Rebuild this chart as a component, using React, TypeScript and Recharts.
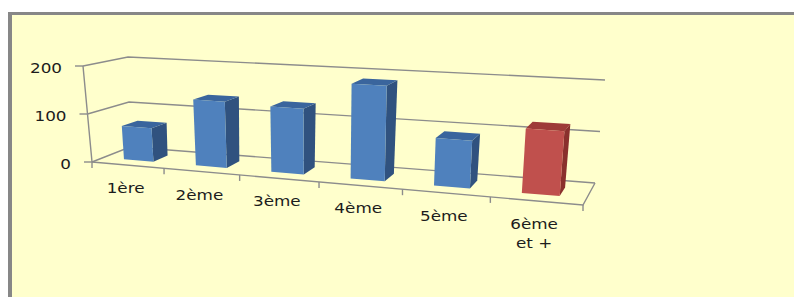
import React from 'react';
import { BarChart, Bar, XAxis, YAxis, CartesianGrid, Cell } from 'recharts';

// ---- data ----
const categories = ['1ère', '2ème', '3ème', '4ème', '5ème', '6ème et +'];
const values = [70, 136, 132, 188, 92, 122];
const highlighted = [false, false, false, false, false, true];
const yTicks = [0, 100, 200];
const Y_MAX = 200;

const data = categories.map((name, i) => ({ name, value: values[i] }));

// ---- layout / view ----
const CHART_W = 794;
const CHART_H = 297;
const PLOT = { left: 92, top: 66, width: 491, height: 96 };
const YAXIS_W = 40;
const XAXIS_H = 30;

type Pt = [number, number];
// view (camera) of the unit box: u = category axis, v = value axis, z = depth
const F00: Pt = [92, 162];
const F10: Pt = [583, 205];
const F01: Pt = [83, 66];
const F11: Pt = [591, 96];
const B00: Pt = [130, 147];
const B10: Pt = [595, 183];
const B01: Pt = [128, 57];
const B11: Pt = [605, 80];
const PERSP = 0.86;
const Z_FRONT = 0.3;
const Z_BACK = 0.7;

const lerp = (a: Pt, b: Pt, t: number): Pt => [a[0] + (b[0] - a[0]) * t, a[1] + (b[1] - a[1]) * t];
const persp = (u: number) => (PERSP * u) / (1 + (PERSP - 1) * u);
const project = (u: number, v: number, z: number): Pt => {
  const t = persp(u);
  const f = lerp(lerp(F00, F10, t), lerp(F01, F11, t), v);
  const b = lerp(lerp(B00, B10, t), lerp(B01, B11, t), v);
  return lerp(f, b, z);
};
const toU = (x: number) => (x - PLOT.left) / PLOT.width;
const toV = (y: number) => (PLOT.top + PLOT.height - y) / PLOT.height;
const pts = (list: Pt[]) => list.map((p) => `${p[0].toFixed(2)},${p[1].toFixed(2)}`).join(' ');

const LINE = '#8c8c8c';
const TEXT = '#1c1c1c';
const FONT = '"DejaVu Sans", sans-serif';

const COLORS: Record<string, { front: string; side: string; top: string }> = {
  blue: { front: '#4F81BD', side: '#30527F', top: '#3A659D' },
  red: { front: '#C0504D', side: '#8A302D', top: '#9E3B38' },
};

const Bar3D = (props: any) => {
  const { x, y, width, height, index } = props;
  if (width == null || height == null) return null;
  const u0 = toU(x);
  const u1 = toU(x + width);
  const vt = toV(y);
  const vb = toV(y + height);
  const c = highlighted[index] ? COLORS.red : COLORS.blue;
  const flb = project(u0, vb, Z_FRONT);
  const frb = project(u1, vb, Z_FRONT);
  const frt = project(u1, vt, Z_FRONT);
  const flt = project(u0, vt, Z_FRONT);
  const brb = project(u1, vb, Z_BACK);
  const brt = project(u1, vt, Z_BACK);
  const blt = project(u0, vt, Z_BACK);
  return (
    <g>
      <polygon points={pts([frt, brt, brb, frb])} fill={c.side} />
      <polygon points={pts([flt, frt, brt, blt])} fill={c.top} />
      <polygon points={pts([flb, frb, frt, flt])} fill={c.front} />
    </g>
  );
};

const gridLine = (p: any) => {
  const v = toV(p.y1);
  const a = project(0, v, 0);
  const b = project(0, v, 1);
  const c = project(1, v, 1);
  const isFloor = Math.abs(v) < 1e-6;
  return (
    <g key={p.key}>
      <polyline points={pts([a, b, c])} fill="none" stroke={LINE} strokeWidth={1.4} />
      {isFloor && (
        <polyline
          points={pts([project(0, 0, 0), project(1, 0, 0), project(1, 0, 1)])}
          fill="none"
          stroke={LINE}
          strokeWidth={1.4}
        />
      )}
    </g>
  );
};

const YTick = (p: any) => {
  const value = p.payload?.value ?? 0;
  const v = toV(p.y);
  const [x, y] = project(0, v, 0);
  const top = project(0, 1, 0);
  const bottom = project(0, 0, 0);
  return (
    <g>
      {value === 0 && (
        <line x1={bottom[0]} y1={bottom[1]} x2={top[0]} y2={top[1]} stroke={LINE} strokeWidth={1.4} />
      )}
      <line x1={x - 8} y1={y} x2={x} y2={y} stroke={LINE} strokeWidth={1.4} />
      <text
        transform={`translate(${x - 21},${y + 7}) scale(1.2,1)`}
        textAnchor="end"
        fontSize={14}
        fontFamily={FONT}
        fill={TEXT}
      >
        {value}
      </text>
    </g>
  );
};

const XTick = (p: any) => {
  const label: string = String(p.payload?.value ?? '');
  const idx: number = p.index ?? 0;
  const n = categories.length;
  const uc = toU(p.x);
  const du = 0.5 / n;
  const bounds = [uc - du];
  if (idx === n - 1) bounds.push(uc + du);
  const [lx, ly] = project(uc, 0, 0);
  const words = label.split(' ');
  const lines = words.length > 1 ? [words[0], words.slice(1).join(' ')] : [label];
  return (
    <g>
      {bounds.map((u, i) => {
        const [tx, ty] = project(u, 0, 0);
        return <line key={i} x1={tx} y1={ty} x2={tx} y2={ty + 6} stroke={LINE} strokeWidth={1.4} />;
      })}
      {lines.map((ln, i) => (
        <text
          key={ln}
          transform={`translate(${lx - 2},${ly + 28 + i * 19}) scale(1.2,1)`}
          textAnchor="middle"
          fontSize={14}
          fontFamily={FONT}
          fill={TEXT}
        >
          {ln}
        </text>
      ))}
    </g>
  );
};

export default function App() {
  return (
    <div
      style={{
        position: 'absolute',
        left: 0,
        top: 0,
        width: CHART_W,
        height: CHART_H,
        overflow: 'hidden',
        background: '#ffffff',
      }}
    >
      <div
        style={{
          position: 'absolute',
          left: 8,
          top: 12,
          width: 1000,
          height: 500,
          borderLeft: '4px solid #878787',
          borderTop: '3px solid #878787',
          background: '#FFFFCC',
        }}
      />
      <div style={{ position: 'absolute', left: 0, top: 0 }}>
        <BarChart
          width={CHART_W}
          height={CHART_H}
          data={data}
          barCategoryGap="29.5%"
          margin={{
            left: PLOT.left - YAXIS_W,
            top: PLOT.top,
            right: CHART_W - PLOT.left - PLOT.width,
            bottom: CHART_H - PLOT.top - PLOT.height - XAXIS_H,
          }}
        >
          <CartesianGrid horizontal={gridLine} vertical={false} />
          <XAxis
            dataKey="name"
            height={XAXIS_H}
            interval={0}
            axisLine={false}
            tickLine={false}
            tick={(p: any) => <XTick {...p} />}
          />
          <YAxis
            domain={[0, Y_MAX]}
            ticks={yTicks}
            width={YAXIS_W}
            interval={0}
            axisLine={false}
            tickLine={false}
            tick={(p: any) => <YTick {...p} />}
          />
          <Bar dataKey="value" isAnimationActive={false} shape={(p: any) => <Bar3D {...p} />}>
            {data.map((d, i) => (
              <Cell key={d.name} fill={highlighted[i] ? COLORS.red.front : COLORS.blue.front} />
            ))}
          </Bar>
        </BarChart>
      </div>
    </div>
  );
}
